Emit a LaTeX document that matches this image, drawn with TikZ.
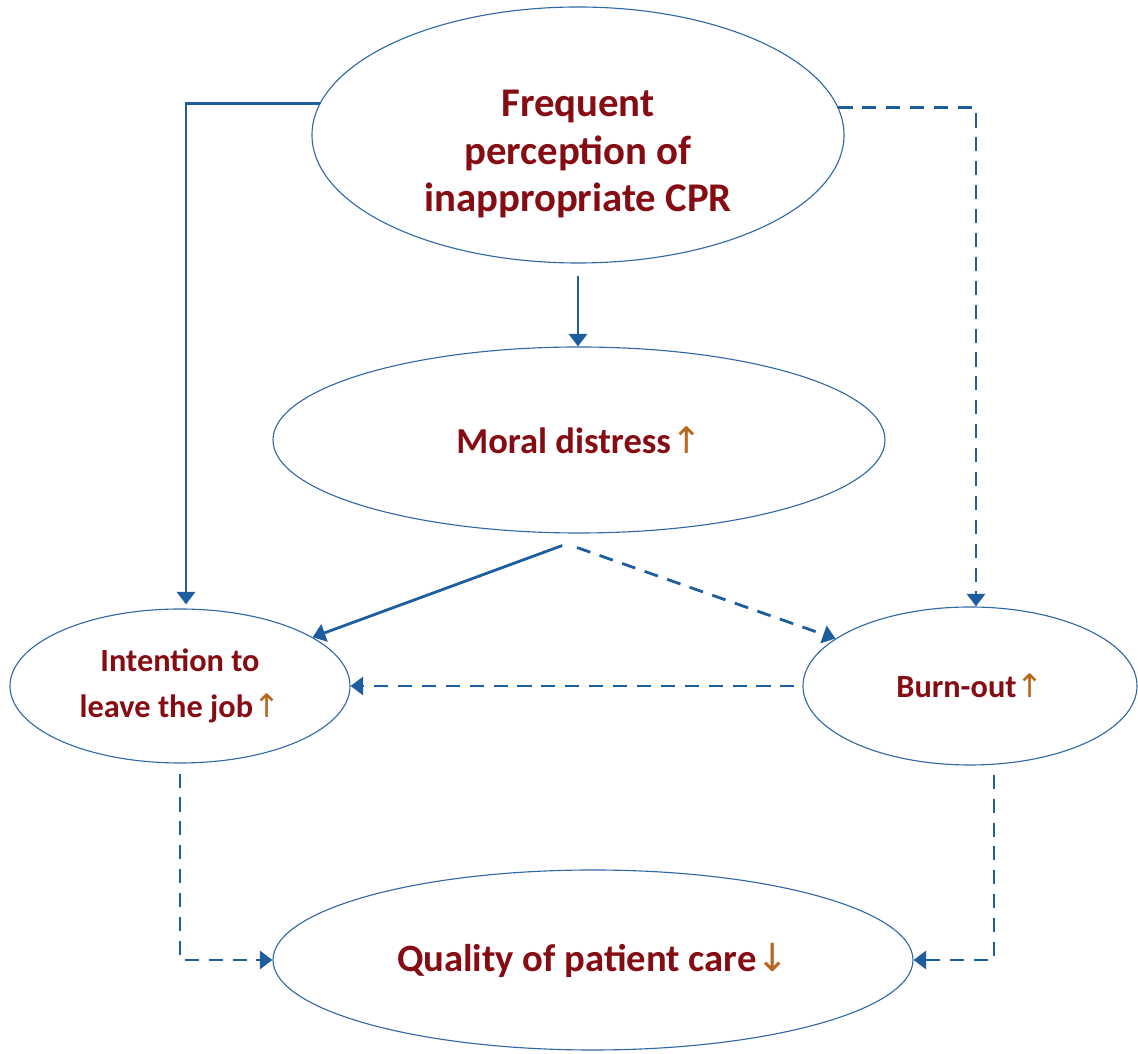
\documentclass[tikz,border=0pt]{standalone}
\usepackage{fontspec}
\setmainfont{Carlito}
\newfontfamily\arrowfont{DejaVu Sans}
\usetikzlibrary{shapes.geometric}
\usetikzlibrary{arrows.meta}
\definecolor{causered}{RGB}{134,12,20}
\definecolor{changebrown}{RGB}{184,104,30}
\definecolor{linkblue}{RGB}{30,94,158}
\definecolor{rimblue}{RGB}{50,105,165}
\newcommand{\incr}{{\color{changebrown}\arrowfont\mdseries ↑}}
\newcommand{\decr}{{\color{changebrown}\arrowfont\mdseries ↓}}
\tikzset{bubble/.style={ellipse,draw=rimblue,line width=0.8pt,fill=white,
inner sep=0pt,align=center,text=causered,font=\bfseries\fontsize{26}{37}\selectfont}}
\tikzset{smallbubble/.style={bubble,font=\bfseries\fontsize{23}{33}\selectfont}}
\tikzset{link/.style={draw=linkblue,line width=2pt,-{Triangle[length=9pt,width=13pt]}}}
\tikzset{dashlink/.style={link,dash pattern=on 10pt off 7pt}}

\begin{document}
\begin{tikzpicture}

        \useasboundingbox (0,0) rectangle (28.45,26.35);

        \node[bubble, minimum width=13.3cm, minimum height=6.4cm, text height=114pt, font=\bfseries\fontsize{29}{34}\selectfont] (ellCPR) at (14.45, 22.975) {Frequent\\perception of\\inappropriate CPR};
        \node[bubble, minimum width=15.3cm, minimum height=4.65cm] (ellMoral) at (14.475, 15.35) {Moral distress\incr};
        \node[smallbubble, minimum width=8.5cm, minimum height=3.85cm] (ellLeave) at (4.5, 9.2) {Intention to\\leave the job\incr};
        \node[smallbubble, minimum width=8.35cm, minimum height=3.95cm] (ellBurn) at (24.25, 9.2) {Burn-out\incr};
        \node[bubble, minimum width=16cm, minimum height=4.5cm, font=\bfseries\fontsize{27.5}{37}\selectfont] (ellCare) at (14.825, 2.35) {Quality of patient care\decr};

        \coordinate (moralL) at ([xshift=-0.42cm,yshift=-0.3cm]ellMoral.south);
        \coordinate (moralR) at ([xshift=-0.05cm,yshift=-0.35cm]ellMoral.south);

        \draw [link, shorten <=0.3cm] (ellCPR.south) -- (ellCPR.south |- ellMoral.north);
        \draw [link, shorten >=0.1cm] (ellCPR.173) -| ([xshift=0.15cm]ellLeave.north);
        \draw [dashlink] (ellCPR.6) -| ([xshift=0.15cm]ellBurn.north);

        \draw [link] (moralL) -- (ellLeave);
        \draw [dashlink] (moralR) -- (ellBurn);
        \draw [dashlink, shorten <=0.2cm] (ellBurn.west) -- (ellLeave.east);

        \draw [dashlink, shorten <=0.25cm] (ellLeave.south) |- (ellCare.west);
        \draw [dashlink, shorten <=0.25cm] (ellBurn.-73) |- (ellCare.east);

\end{tikzpicture}
\end{document}
